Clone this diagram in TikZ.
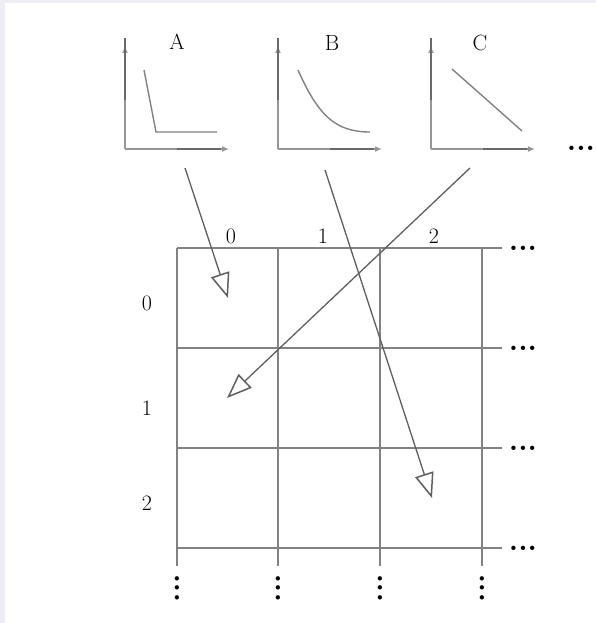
\documentclass[tikz,border=0pt]{standalone}
\usetikzlibrary{arrows.meta}
\definecolor{bgl}{RGB}{238,236,244}
\definecolor{gridc}{RGB}{130,130,130}
\definecolor{axc}{RGB}{150,150,150}
\definecolor{axd}{RGB}{105,105,105}
\definecolor{arrc}{RGB}{95,95,95}
\begin{document}
\begin{tikzpicture}[x=1pt,y=-1pt,
  gridline/.style={draw=gridc,line width=1.8pt},
  axis/.style={draw=axc,line width=1.6pt,-{Latex[length=7pt,width=6pt]}},
  curve/.style={draw=gridc,line width=1.4pt},
  bigarrow/.style={draw=arrc,line width=1.3pt,-{Triangle[open,length=25pt,width=19pt,line width=1.5pt]}},
  lab/.style={font=\fontsize{22}{22}\selectfont,inner sep=0pt},
  dots/.style={font=\fontsize{30}{30}\selectfont\bfseries,inner sep=0pt}]
\fill[bgl] (0,0) rectangle (596,623);
\fill[white] (5,3) rectangle (596,623);
\useasboundingbox (0,0) rectangle (596,623);

% ---- small graphs ----
\foreach \n/\ox in {A/125,B/278,C/431}{
  \coordinate (o\n) at (\ox,149);
  \coordinate (y\n) at (\ox,46);
  \coordinate (x\n) at (\ox+104,149);
  \coordinate (ym\n) at (\ox,100);
  \coordinate (xm\n) at (\ox+52,149);
  \draw[axis] (o\n) -- (y\n);
  \draw[axis] (o\n) -- (x\n);
  \draw[draw=axd,line width=1.6pt] (ym\n) -- ([yshift=8pt]y\n);
  \draw[draw=axd,line width=1.6pt] (xm\n) -- ([xshift=-8pt]x\n);
}
\node[lab] (tA) at (177,42) {A};
\node[lab] (tB) at (332,43) {B};
\node[lab] (tC) at (480,43) {C};
\node[dots] (tdots) at (581,148) {...};

\coordinate (a1) at (144,70);
\coordinate (a2) at (156,132);
\coordinate (a3) at (217,132);
\draw[curve] (a1) -- (a2) -- (a3);
\coordinate (b1) at (298,70);
\coordinate (b2) at (370,132);
\draw[curve] (b1) .. controls (318,115) and (335,132) .. (b2);
\coordinate (c1) at (452,69);
\coordinate (c2) at (522,131);
\draw[curve] (c1) -- (c2);

% ---- grid ----
\foreach \i/\y in {0/248,1/348,2/448,3/548}{
  \coordinate (hl\i) at (177,\y);
  \coordinate (hr\i) at (502,\y);
  \draw[gridline] (hl\i) -- (hr\i);
  \node[dots] (rd\i) at (523,\y) {...};
}
\foreach \j/\x in {0/177,1/278,2/380,3/482}{
  \coordinate (vt\j) at (\x,248);
  \coordinate (vb\j) at (\x,566);
  \draw[gridline] (vt\j) -- (vb\j);
  \node[dots,rotate=90] (bd\j) at (\x,588) {...};
}

% ---- labels ----
\node[lab] (c0) at (231,236) {0};
\node[lab] (c1l) at (323,236) {1};
\node[lab] (c2l) at (434,236) {2};
\node[lab] (r0) at (147,303) {0};
\node[lab] (r1) at (147,408) {1};
\node[lab] (r2) at (147,503) {2};

% ---- arrows ----
\coordinate (sA) at (185,168);
\coordinate (eA) at (228,298);
\coordinate (sB) at (325,170);
\coordinate (eB) at (432,498);
\coordinate (sC) at (470,168);
\coordinate (eC) at (227,398);
\draw[bigarrow] (sA) -- (eA);
\draw[bigarrow] (sB) -- (eB);
\draw[bigarrow] (sC) -- (eC);
\end{tikzpicture}
\end{document}
